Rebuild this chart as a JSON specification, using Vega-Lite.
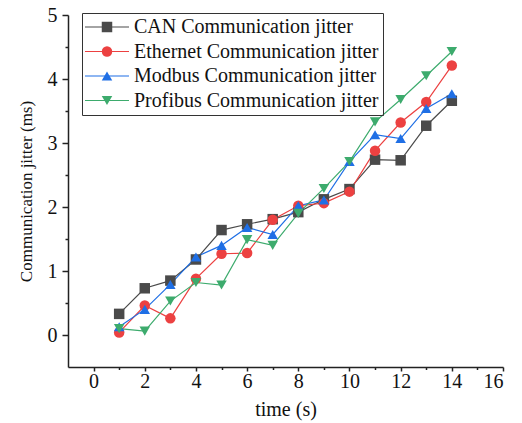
{
  "$schema": "https://vega.github.io/schema/vega-lite/v6.json",
  "width": 435,
  "height": 352,
  "autosize": "none",
  "padding": {"left": 68, "top": 15, "right": 19, "bottom": 56},
  "background": "white",
  "config": {
    "view": {"stroke": null},
    "font": "Liberation Serif",
    "axis": {
      "domainColor": "#222",
      "domainWidth": 1.5,
      "tickColor": "#222",
      "tickWidth": 1.5,
      "labelFont": "Liberation Serif",
      "labelFontSize": 20,
      "labelColor": "#111",
      "titleFont": "Liberation Serif",
      "titleFontWeight": "normal",
      "titleColor": "#111",
      "grid": false,
      "labelOverlap": false
    },
    "legend": {
      "labelFont": "Liberation Serif",
      "labelFontSize": 20,
      "labelColor": "#111",
      "labelLimit": 0
    }
  },
  "data": {
    "values": [
      {"t": 1, "s": "CAN Communication jitter", "v": 0.33},
      {"t": 2, "s": "CAN Communication jitter", "v": 0.73},
      {"t": 3, "s": "CAN Communication jitter", "v": 0.85},
      {"t": 4, "s": "CAN Communication jitter", "v": 1.18},
      {"t": 5, "s": "CAN Communication jitter", "v": 1.64},
      {"t": 6, "s": "CAN Communication jitter", "v": 1.73},
      {"t": 7, "s": "CAN Communication jitter", "v": 1.81},
      {"t": 8, "s": "CAN Communication jitter", "v": 1.92},
      {"t": 9, "s": "CAN Communication jitter", "v": 2.12},
      {"t": 10, "s": "CAN Communication jitter", "v": 2.28},
      {"t": 11, "s": "CAN Communication jitter", "v": 2.74},
      {"t": 12, "s": "CAN Communication jitter", "v": 2.73},
      {"t": 13, "s": "CAN Communication jitter", "v": 3.27},
      {"t": 14, "s": "CAN Communication jitter", "v": 3.66},
      {"t": 1, "s": "Ethernet Communication jitter", "v": 0.04},
      {"t": 2, "s": "Ethernet Communication jitter", "v": 0.46},
      {"t": 3, "s": "Ethernet Communication jitter", "v": 0.26},
      {"t": 4, "s": "Ethernet Communication jitter", "v": 0.88},
      {"t": 5, "s": "Ethernet Communication jitter", "v": 1.27},
      {"t": 6, "s": "Ethernet Communication jitter", "v": 1.28},
      {"t": 7, "s": "Ethernet Communication jitter", "v": 1.80},
      {"t": 8, "s": "Ethernet Communication jitter", "v": 2.02},
      {"t": 9, "s": "Ethernet Communication jitter", "v": 2.06},
      {"t": 10, "s": "Ethernet Communication jitter", "v": 2.24},
      {"t": 11, "s": "Ethernet Communication jitter", "v": 2.88},
      {"t": 12, "s": "Ethernet Communication jitter", "v": 3.32},
      {"t": 13, "s": "Ethernet Communication jitter", "v": 3.64},
      {"t": 14, "s": "Ethernet Communication jitter", "v": 4.21},
      {"t": 1, "s": "Modbus Communication jitter", "v": 0.13},
      {"t": 2, "s": "Modbus Communication jitter", "v": 0.40},
      {"t": 3, "s": "Modbus Communication jitter", "v": 0.79},
      {"t": 4, "s": "Modbus Communication jitter", "v": 1.22},
      {"t": 5, "s": "Modbus Communication jitter", "v": 1.40},
      {"t": 6, "s": "Modbus Communication jitter", "v": 1.68},
      {"t": 7, "s": "Modbus Communication jitter", "v": 1.57},
      {"t": 8, "s": "Modbus Communication jitter", "v": 2.02},
      {"t": 9, "s": "Modbus Communication jitter", "v": 2.11},
      {"t": 10, "s": "Modbus Communication jitter", "v": 2.71},
      {"t": 11, "s": "Modbus Communication jitter", "v": 3.13},
      {"t": 12, "s": "Modbus Communication jitter", "v": 3.07},
      {"t": 13, "s": "Modbus Communication jitter", "v": 3.54},
      {"t": 14, "s": "Modbus Communication jitter", "v": 3.77},
      {"t": 1, "s": "Profibus Communication jitter", "v": 0.10},
      {"t": 2, "s": "Profibus Communication jitter", "v": 0.06},
      {"t": 3, "s": "Profibus Communication jitter", "v": 0.53},
      {"t": 4, "s": "Profibus Communication jitter", "v": 0.82},
      {"t": 5, "s": "Profibus Communication jitter", "v": 0.78},
      {"t": 6, "s": "Profibus Communication jitter", "v": 1.49},
      {"t": 7, "s": "Profibus Communication jitter", "v": 1.40},
      {"t": 8, "s": "Profibus Communication jitter", "v": 1.90},
      {"t": 9, "s": "Profibus Communication jitter", "v": 2.29},
      {"t": 10, "s": "Profibus Communication jitter", "v": 2.71},
      {"t": 11, "s": "Profibus Communication jitter", "v": 3.33},
      {"t": 12, "s": "Profibus Communication jitter", "v": 3.68},
      {"t": 13, "s": "Profibus Communication jitter", "v": 4.05},
      {"t": 14, "s": "Profibus Communication jitter", "v": 4.43}
    ]
  },
  "encoding": {
    "x": {
      "field": "t",
      "type": "quantitative",
      "scale": {"domain": [-1, 16], "nice": false, "zero": false},
      "axis": {
        "title": "time (s)",
        "titleFontSize": 20,
        "titlePadding": 8,
        "labelFont": "Liberation Serif",
        "values": [0, 1, 2, 3, 4, 5, 6, 7, 8, 9, 10, 11, 12, 13, 14, 15, 16],
        "labelExpr": "datum.value % 2 === 0 ? format(datum.value, 'd') : ''",
        "tickSize": {"condition": {"test": "datum.value % 2 === 0", "value": 4}, "value": 2.5},
        "labelPadding": 0
      }
    },
    "y": {
      "field": "v",
      "type": "quantitative",
      "scale": {"domain": [-0.5, 5], "nice": false, "zero": false},
      "axis": {
        "title": "Communication jitter (ms)",
        "titleFontSize": 17,
        "titlePadding": 12,
        "labelFont": "Liberation Serif",
        "values": [0, 0.5, 1, 1.5, 2, 2.5, 3, 3.5, 4, 4.5, 5],
        "labelExpr": "datum.value % 1 === 0 ? format(datum.value, 'd') : ''",
        "tickSize": {"condition": {"test": "datum.value % 1 === 0", "value": 6}, "value": 3},
        "labelPadding": 5
      }
    }
  },
  "layer": [
    {
      "mark": {"type": "line", "strokeWidth": 1.2},
      "encoding": {
        "stroke": {
          "field": "s",
          "type": "nominal",
          "scale": {
            "domain": ["CAN Communication jitter", "Ethernet Communication jitter", "Modbus Communication jitter", "Profibus Communication jitter"],
            "range": ["#4a4a4a", "#ec4141", "#1f6fe5", "#3dab6d"]
          },
          "legend": {
            "orient": "none",
            "legendX": 14,
            "legendY": -2,
            "title": null,
            "symbolType": "M-4.4,0H4.4",
            "symbolSize": 100,
            "symbolStrokeWidth": 1.2,
            "symbolOffset": 11,
            "labelOffset": 17,
            "rowPadding": 4.5,
            "padding": 4,
            "strokeColor": "#333"
          }
        }
      }
    },
    {
      "mark": {"type": "point", "filled": true, "size": 110, "opacity": 1},
      "encoding": {
        "fill": {
          "field": "s",
          "type": "nominal",
          "scale": {"range": ["#4a4a4a", "#ec4141", "#1f6fe5", "#3dab6d"]},
          "legend": {
            "orient": "none",
            "legendX": 25,
            "legendY": -2,
            "title": null,
            "symbolSize": 110,
            "symbolStrokeWidth": 0,
            "labelExpr": "''",
            "rowPadding": 4.5,
            "padding": 4
          }
        },
        "shape": {
          "field": "s",
          "type": "nominal",
          "scale": {"range": ["square", "circle", "triangle-up", "triangle-down"]},
          "legend": {
            "orient": "none",
            "legendX": 25,
            "legendY": -2,
            "title": null,
            "symbolSize": 110,
            "symbolStrokeWidth": 0,
            "labelExpr": "''",
            "rowPadding": 4.5,
            "padding": 4
          }
        }
      }
    }
  ]
}
